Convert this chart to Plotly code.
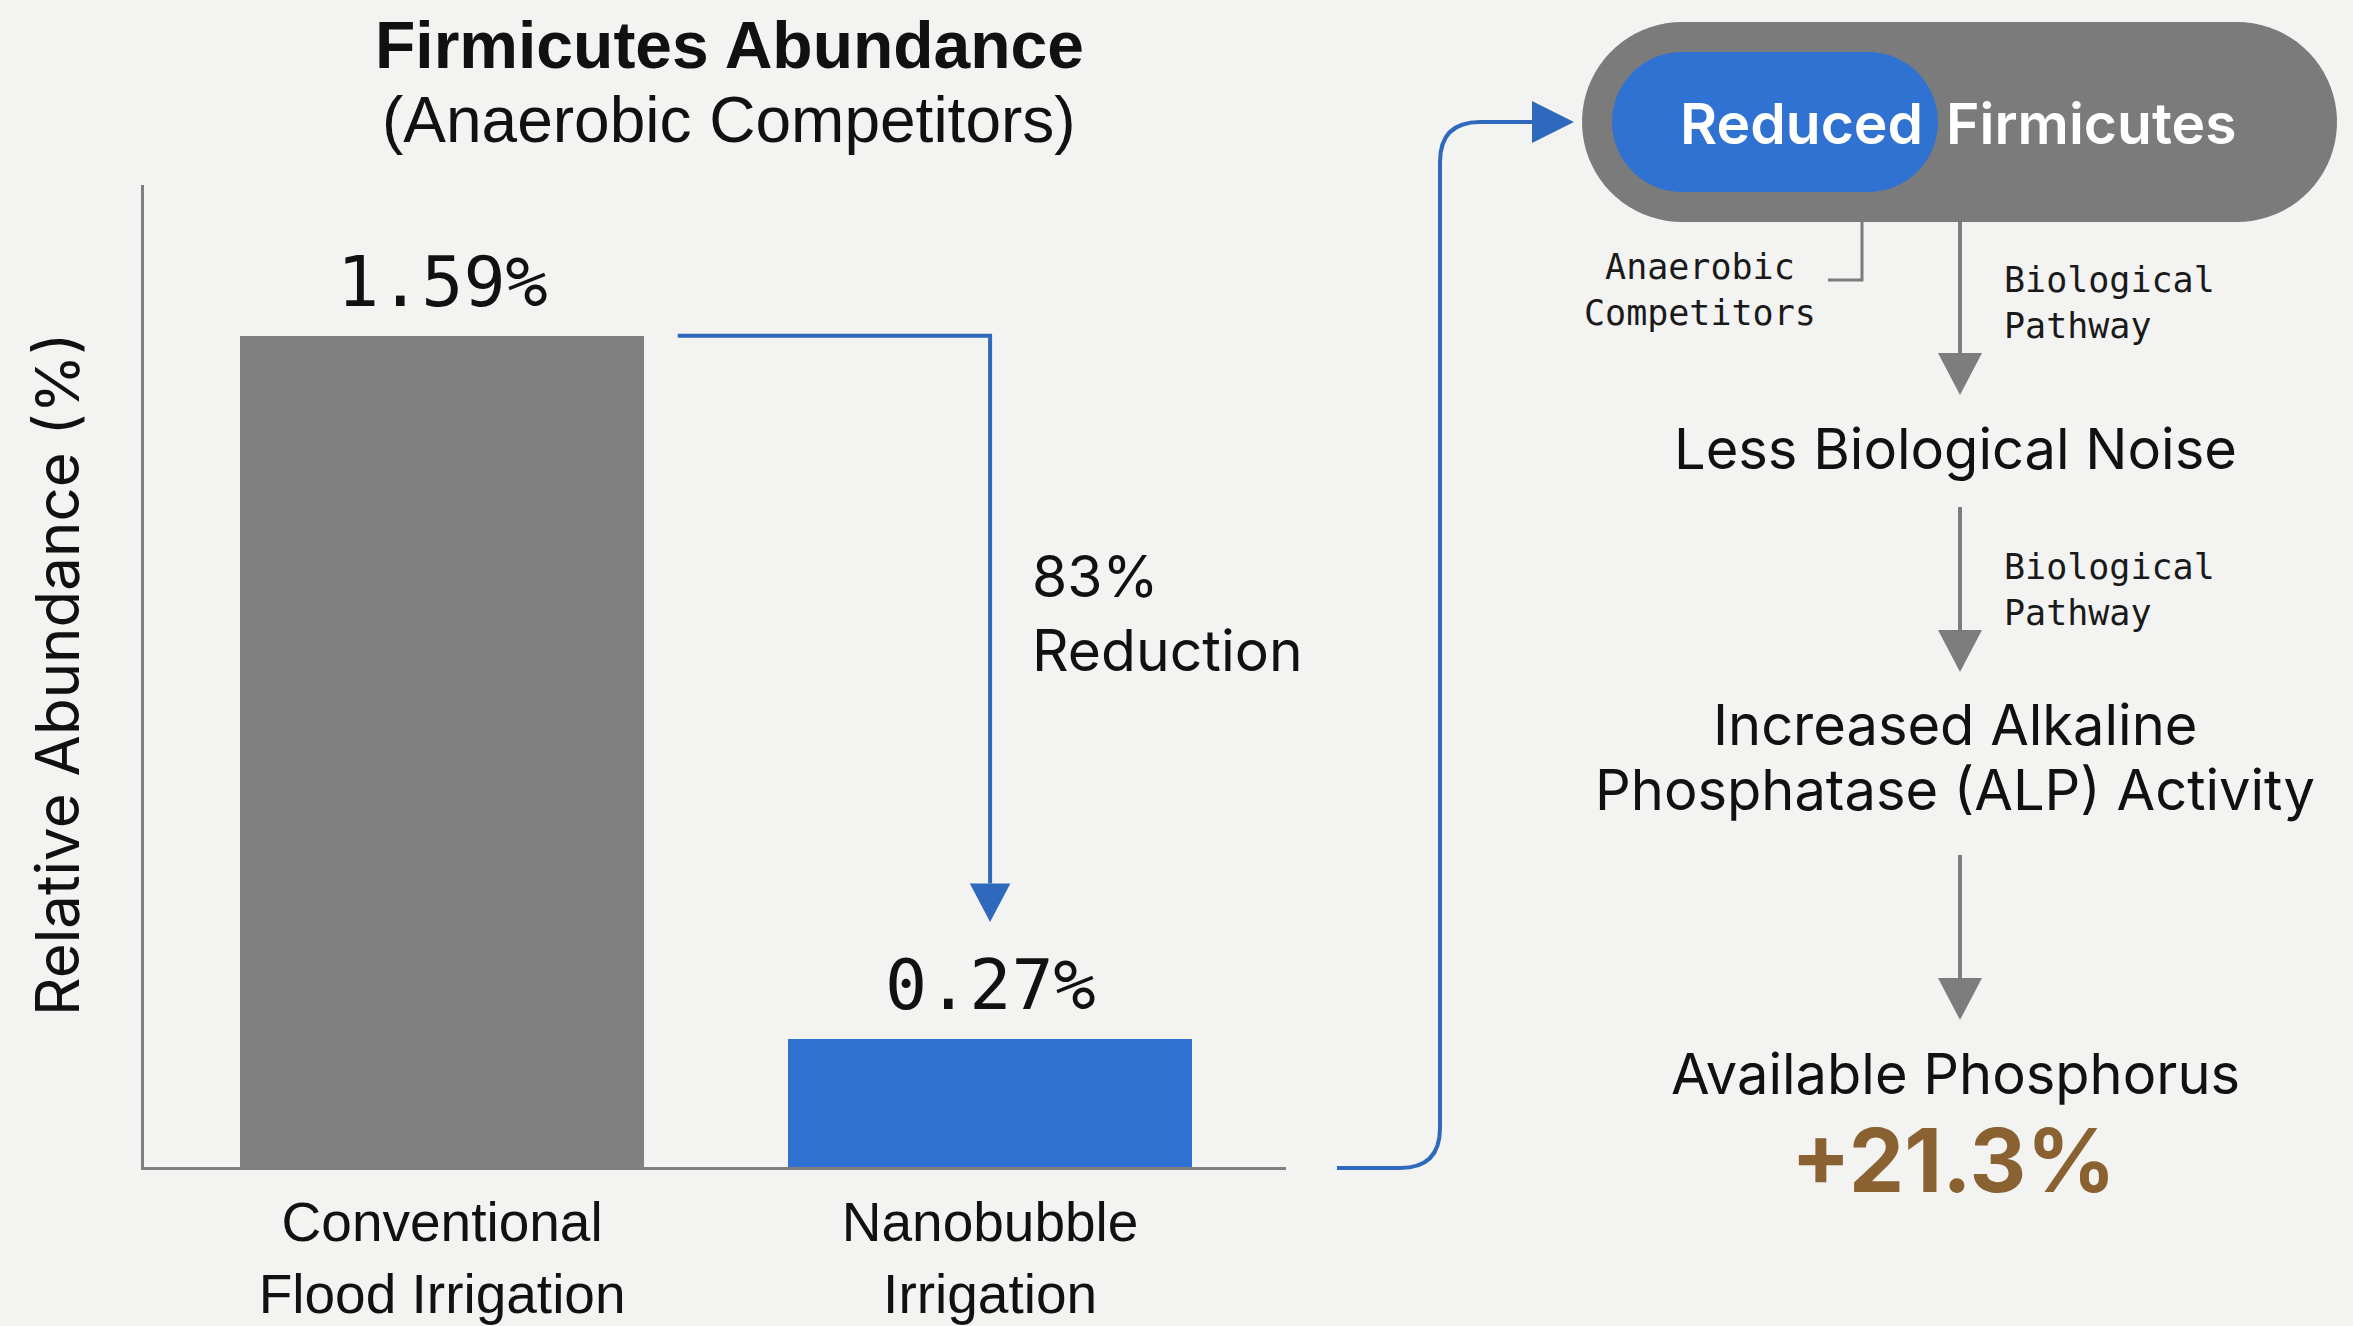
import numpy as np
import plotly.graph_objects as go

W, H = 2353, 1326

# ---------------- data ----------------
categories = ["Conventional<br>Flood Irrigation", "Nanobubble<br>Irrigation"]
abundance = [1.59, 0.27]
value_labels = ["1.59%", "0.27%"]
bar_colors = ["#808080", "#2f72d2"]
reduction_text = "83%<br>Reduction"
pill_left = "Reduced"
pill_right = "Firmicutes"
side_note = "Anaerobic<br>Competitors"
pathway_note = "Biological<br>Pathway"
step_noise = "Less Biological Noise"
step_alp = ["Increased Alkaline", "Phosphatase (ALP) Activity"]
step_p = "Available Phosphorus"
result_label = "+21.3%"

BG = "#f3f3f1"
BLUE_LINE = "#2f69bd"
GRAY = "#7d7d7d"


def px(x):
    return x / W


def py(y):
    return 1 - y / H


def path_px(points, close=False):
    s = "M " + " L ".join(f"{px(x):.5f},{py(y):.5f}" for x, y in points)
    return s + (" Z" if close else "")


def pill_points(x0, y0, x1, y1, n=40):
    r = (y1 - y0) / 2
    cy = (y0 + y1) / 2
    pts = []
    for t in np.linspace(-np.pi / 2, np.pi / 2, n):
        pts.append((x1 - r + r * np.cos(t), cy + r * np.sin(t)))
    for t in np.linspace(np.pi / 2, 3 * np.pi / 2, n):
        pts.append((x0 + r + r * np.cos(t), cy + r * np.sin(t)))
    return pts


fig = go.Figure()
fig.add_trace(go.Bar(
    x=[0, 1], y=abundance, width=0.737,
    marker=dict(color=bar_colors, line=dict(width=0)),
    hoverinfo="skip", showlegend=False,
))

shapes = []
annotations = []

# value labels above bars
for i, (v, lab) in enumerate(zip(abundance, value_labels)):
    annotations.append(dict(
        x=i, y=v, xref="x", yref="y", text=lab, showarrow=False,
        yanchor="middle", yshift=54,
        font=dict(family="DejaVu Sans Mono", size=70, color="#111111"),
    ))

# reduction arrow (data coords)
y_top = abundance[0]
tip_y = 0.49
head_len = 0.072
head_hw = 0.037
shapes.append(dict(
    type="path", xref="x", yref="y",
    path=f"M 0.43,{y_top} L 1,{y_top} L 1,{tip_y + head_len}",
    line=dict(color=BLUE_LINE, width=4),
))
shapes.append(dict(
    type="path", xref="x", yref="y",
    path=f"M {1 - head_hw},{tip_y + head_len} L {1 + head_hw},{tip_y + head_len} L 1,{tip_y} Z",
    fillcolor=BLUE_LINE, line=dict(width=0),
))
annotations.append(dict(
    x=px(1030), y=py(613), xref="paper", yref="paper", text=reduction_text,
    showarrow=False, xanchor="left", yanchor="middle", align="left",
    font=dict(family="Inter", size=57, color="#111111"),
))

# connector from chart to pill
shapes.append(dict(
    type="path", xref="paper", yref="paper",
    path=(f"M {px(1337)},{py(1168)} L {px(1400)},{py(1168)} "
          f"Q {px(1440)},{py(1168)} {px(1440)},{py(1128)} "
          f"L {px(1440)},{py(162)} "
          f"Q {px(1440)},{py(122)} {px(1480)},{py(122)} L {px(1534)},{py(122)}"),
    line=dict(color=BLUE_LINE, width=4),
))
shapes.append(dict(
    type="path", xref="paper", yref="paper",
    path=path_px([(1532, 101), (1574, 122), (1532, 143)], close=True),
    fillcolor=BLUE_LINE, line=dict(width=0),
))

# pills
shapes.append(dict(type="path", xref="paper", yref="paper",
                   path=path_px(pill_points(1582, 22, 2337, 222), close=True),
                   fillcolor="#7b7b7b", line=dict(width=0), layer="below"))
shapes.append(dict(type="path", xref="paper", yref="paper",
                   path=path_px(pill_points(1612, 52, 1938, 192), close=True),
                   fillcolor="#2f72d2", line=dict(width=0), layer="below"))
annotations.append(dict(
    x=px(1925), y=py(123), xref="paper", yref="paper", text=pill_left,
    showarrow=False, xanchor="right", yanchor="middle",
    font=dict(family="Inter", size=57, color="#ffffff", weight=600),
))
annotations.append(dict(
    x=px(1944), y=py(123), xref="paper", yref="paper", text=pill_right,
    showarrow=False, xanchor="left", yanchor="middle",
    font=dict(family="Inter", size=57, color="#ffffff", weight=600),
))

# bracket to side note
shapes.append(dict(type="path", xref="paper", yref="paper",
                   path=path_px([(1862, 192), (1862, 280), (1828, 280)]),
                   line=dict(color=GRAY, width=3)))
annotations.append(dict(
    x=px(1700), y=py(290), xref="paper", yref="paper", text=side_note,
    showarrow=False, xanchor="center", yanchor="middle", align="center",
    font=dict(family="DejaVu Sans Mono", size=35, color="#1a1a1a"),
))

# gray flow arrows
for (y0, y1) in [(222, 395), (507, 672), (855, 1020)]:
    shapes.append(dict(type="path", xref="paper", yref="paper",
                       path=path_px([(1960, y0), (1960, y1 - 40)]),
                       line=dict(color=GRAY, width=4)))
    shapes.append(dict(type="path", xref="paper", yref="paper",
                       path=path_px([(1938, y1 - 42), (1982, y1 - 42), (1960, y1)], close=True),
                       fillcolor=GRAY, line=dict(width=0)))

for yc in (303, 590):
    annotations.append(dict(
        x=px(2002), y=py(yc), xref="paper", yref="paper", text=pathway_note,
        showarrow=False, xanchor="left", yanchor="middle", align="left",
        font=dict(family="DejaVu Sans Mono", size=35, color="#1a1a1a"),
    ))

flow_font = dict(family="Inter", size=56, color="#111111")
for text, yc in [(step_noise, 449), (step_alp[0], 725), (step_alp[1], 790), (step_p, 1074)]:
    annotations.append(dict(
        x=px(1955), y=py(yc), xref="paper", yref="paper", text=text,
        showarrow=False, xanchor="center", yanchor="middle", font=flow_font,
    ))
annotations.append(dict(
    x=px(1953), y=py(1160), xref="paper", yref="paper", text=result_label,
    showarrow=False, xanchor="center", yanchor="middle",
    font=dict(family="Inter", size=88, color="#8a6232", weight=700),
))

# titles
annotations.append(dict(
    x=px(729), y=py(45), xref="paper", yref="paper",
    text="<b>Firmicutes Abundance</b>", showarrow=False,
    xanchor="center", yanchor="middle",
    font=dict(family="Liberation Sans", size=66, color="#111111"),
))
annotations.append(dict(
    x=px(729), y=py(120), xref="paper", yref="paper",
    text="(Anaerobic Competitors)", showarrow=False,
    xanchor="center", yanchor="middle",
    font=dict(family="Liberation Sans", size=64, color="#111111"),
))
annotations.append(dict(
    x=px(57), y=py(675), xref="paper", yref="paper",
    text="Relative Abundance (%)", showarrow=False, textangle=-90,
    xanchor="center", yanchor="middle",
    font=dict(family="Inter", size=60, color="#111111"),
))

fig.update_layout(
    width=W, height=H,
    margin=dict(l=0, r=0, t=0, b=0, autoexpand=False),
    paper_bgcolor=BG, plot_bgcolor=BG,
    shapes=shapes, annotations=annotations,
    showlegend=False, bargap=0,
    xaxis=dict(
        domain=[px(144), px(1286)], range=[-0.544, 1.54],
        tickmode="array", tickvals=[0, 1], ticktext=categories,
        showline=True, linecolor="#808080", linewidth=3,
        showgrid=False, zeroline=False, ticks="",
        tickfont=dict(family="Liberation Sans", size=55, color="#111111"),
        ticklabelstandoff=5, fixedrange=True, automargin=False,
    ),
    yaxis=dict(
        domain=[py(1167), py(185)], range=[0.03, 1.873],
        showline=True, linecolor="#808080", linewidth=3,
        showgrid=False, zeroline=False, ticks="", showticklabels=False,
        fixedrange=True, automargin=False,
    ),
)

fig.write_html(
    "out.html",
    config={"displayModeBar": False},
    post_script="document.body.style.margin='0';document.body.style.background='#f3f3f1';",
)
